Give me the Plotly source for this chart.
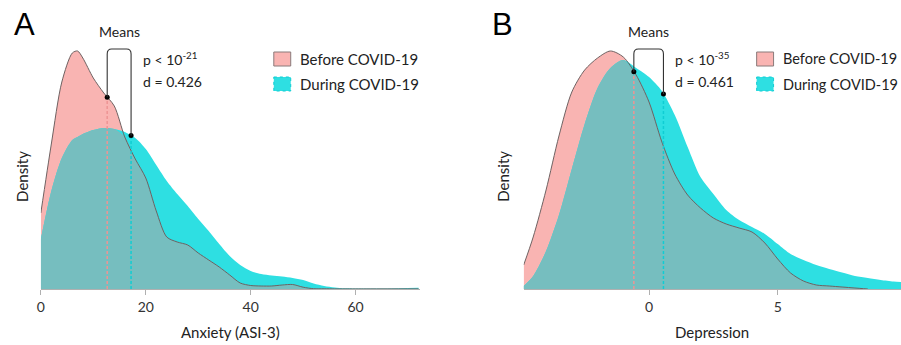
import numpy as np
import plotly.graph_objects as go

# ---------------- data ----------------
# Panel A: Anxiety (ASI-3) -- relative density heights
anx_x = [0, 2, 4, 6, 7, 8, 10, 12, 14, 16, 18, 20, 22, 24, 26, 28, 30, 32, 34, 36,
         38, 40, 42, 44, 46, 48, 50, 52, 54, 56, 58, 62, 66, 72]
anx_before = [76, 145, 207, 236, 238, 231, 211, 196, 183, 152, 130, 111, 78, 52, 47, 44,
              36, 29, 22, 14, 6, 3.5, 3, 3, 4, 4.5, 1.8, 0.3, 0.2, 0.1, 0.1, 0.1, 0.1, 0.1]
anx_during = [50, 98, 131, 149, 152, 155, 159, 161, 160, 157, 151, 140, 124, 108, 95, 83,
              70, 58, 45, 33, 24, 18, 15, 13.5, 12.5, 11, 9, 5.5, 3, 1.5, 0.7, 0.5, 0.6, 1.2]
anx_means = [12.65, 17.2]
anx_p_exp = "-21"
anx_d = "0.426"

# Panel B: Depression -- relative density heights
dep_x = [-4.87, -4.5, -4, -3.5, -3, -2.5, -2, -1.5, -1, -0.5, 0, 0.5, 1, 1.5, 2, 2.5, 3,
         3.5, 4, 4.5, 5, 5.5, 6, 6.5, 7, 7.5, 8, 8.5, 9, 9.5, 9.8]
dep_before = [24, 52, 99, 153, 197, 219, 231, 238, 232, 214, 187, 147, 115, 94, 81, 71, 65,
              61, 57, 46, 30, 16, 8, 4, 3, 2, 1, 0, None, None, None]
dep_during = [3, 13, 38, 74, 120, 165, 201, 221, 229, 221, 212, 198, 174, 142, 112, 95, 79,
              69, 62, 55, 45, 35, 29, 24, 20, 16.5, 13, 11, 9, 7.5, 7]
dep_means = [-0.59, 0.56]
dep_p_exp = "-35"
dep_d = "0.461"

anx_ticks = [0, 20, 40, 60]
dep_ticks = [0, 5]
series_names = ["Before COVID-19", "During COVID-19"]

# ---------------- styling ----------------
W, H = 901, 345
M_T, M_B = 40, 56
PLOT_H = H - M_T - M_B
BASE = H - M_B
FONT = "Lato"
PINK = "#F9B4B2"
PINK_LINE = "#6E6262"
CYAN = "#2EDFE2"
TEAL = "#76BEBF"
PINK_DASH = "#EE9494"
CYAN_DASH = "#10CDD3"
YMAX = PLOT_H

panels = [
    dict(x=anx_x, b=anx_before, d=anx_during, means=anx_means, p=anx_p_exp, dv=anx_d,
         dom=(37, 418), rng=(0, 72.3), ticks=anx_ticks, title="Anxiety (ASI-3)",
         letter="A", letter_xy=(21, 24), dens_x=18, legend_x=271, legend_fs=15,
         xa="x", ya="y"),
    dict(x=dep_x, b=dep_before, d=dep_during, means=dep_means, p=dep_p_exp, dv=dep_d,
         dom=(522, 901), rng=(-4.87, 9.79), ticks=dep_ticks, title="Depression",
         letter="B", letter_xy=(501, 25), dens_x=501, legend_x=756, legend_fs=14.5,
         xa="x2", ya="y2"),
]


def px2paper(px):
    return px / W


def py2paper(py):
    return (BASE - py) / PLOT_H


def label(text, px, py, size, xanchor="center", family=FONT, color="#222", angle=0):
    return dict(text=text, x=px2paper(px), y=py2paper(py), xref="paper", yref="paper",
                xanchor=xanchor, yanchor="middle", showarrow=False, textangle=angle,
                font=dict(family=family, size=size, color=color))


fig = go.Figure()
shapes = []
annotations = []

for i, pn in enumerate(panels):
    x = np.array(pn["x"], dtype=float)
    b = np.array([np.nan if v is None else v for v in pn["b"]], dtype=float)
    d = np.array(pn["d"], dtype=float)
    b0 = np.nan_to_num(b, nan=0.0)
    overlap = np.minimum(b0, d)
    xa, ya = pn["xa"], pn["ya"]
    bl = [None if np.isnan(v) else v for v in b]

    fig.add_trace(go.Scatter(x=x, y=bl, mode="lines", fill="tozeroy", fillcolor=PINK,
                             line=dict(width=0, shape="spline", smoothing=0.8),
                             hoverinfo="skip", showlegend=False, xaxis=xa, yaxis=ya))
    fig.add_trace(go.Scatter(x=x, y=d, mode="lines", fill="tozeroy", fillcolor=CYAN,
                             line=dict(width=0, shape="spline", smoothing=0.8),
                             hoverinfo="skip", showlegend=False, xaxis=xa, yaxis=ya))
    fig.add_trace(go.Scatter(x=x, y=overlap, mode="lines", fill="tozeroy", fillcolor=TEAL,
                             line=dict(width=0, shape="spline", smoothing=0.8),
                             hoverinfo="skip", showlegend=False, xaxis=xa, yaxis=ya))
    fig.add_trace(go.Scatter(x=x, y=bl, mode="lines",
                             line=dict(width=1, color=PINK_LINE, shape="spline", smoothing=0.8),
                             hoverinfo="skip", showlegend=False, xaxis=xa, yaxis=ya))

    # means: dashed lines + dots
    h_b = float(np.interp(pn["means"][0], x, b0))
    h_d = float(np.interp(pn["means"][1], x, d))
    heights = [h_b, h_d]
    for m, h, c in zip(pn["means"], heights, [PINK_DASH, CYAN_DASH]):
        fig.add_trace(go.Scatter(x=[m, m], y=[0, h], mode="lines",
                                 line=dict(color=c, width=1.5, dash="3px,2px"),
                                 hoverinfo="skip", showlegend=False, xaxis=xa, yaxis=ya))
    fig.add_trace(go.Scatter(x=pn["means"], y=heights, mode="markers",
                             marker=dict(color="black", size=5),
                             hoverinfo="skip", showlegend=False, xaxis=xa, yaxis=ya))

    # bracket
    upx = (pn["dom"][1] - pn["dom"][0]) / (pn["rng"][1] - pn["rng"][0])
    rx, ry = 4.5 / upx, 5.0
    top = 240
    m1, m2 = pn["means"]
    path = (f"M{m1},{h_b} L{m1},{top - ry} Q{m1},{top} {m1 + rx},{top} "
            f"L{m2 - rx},{top} Q{m2},{top} {m2},{top - ry} L{m2},{h_d}")
    shapes.append(dict(type="path", path=path, xref=xa, yref=ya,
                       line=dict(color="#333333", width=1.1)))

    mid_px = pn["dom"][0] + (np.mean(pn["means"]) - pn["rng"][0]) * upx
    annotations.append(label("Means", mid_px, 31, 14))
    tx = pn["dom"][0] + (m2 - pn["rng"][0]) * upx + 10
    annotations.append(label(f"p < 10<sup>{pn['p']}</sup>", tx, 59, 14, xanchor="left"))
    annotations.append(label(f"d = {pn['dv']}", tx, 81, 14, xanchor="left"))

    # panel letter
    annotations.append(label(pn["letter"], pn["letter_xy"][0], pn["letter_xy"][1], 31,
                             family="Liberation Sans", color="black"))
    # axis titles
    annotations.append(label("Density", pn["dens_x"], 176, 15, angle=-90))
    annotations.append(label(pn["title"], sum(pn["dom"]) / 2, 332, 15))

    # legend (boxes + labels)
    lx = pn["legend_x"]
    for k, (name, fc, lc, dash) in enumerate(zip(series_names, [PINK, CYAN],
                                                  ["#8a7a7a", CYAN_DASH], ["solid", "dot"])):
        yc = 59 + 25 * k
        shapes.append(dict(type="rect", xref="paper", yref="paper",
                           x0=px2paper(lx), x1=px2paper(lx + 17),
                           y0=py2paper(yc - 7), y1=py2paper(yc + 7),
                           fillcolor=fc, line=dict(color=lc, width=1, dash=dash)))
        annotations.append(label(name, lx + 24, yc, pn["legend_fs"], xanchor="left"))

axis_common = dict(showgrid=False, zeroline=False, showline=True, linecolor="#b0b0b0",
                   linewidth=1, ticks="outside", ticklen=5, tickcolor="#b0b0b0",
                   tickfont=dict(family=FONT, size=14, color="#333"))
yaxis_common = dict(range=[0, YMAX], showgrid=False, zeroline=False, showline=False,
                    showticklabels=False, ticks="", fixedrange=True)

fig.update_layout(
    width=W, height=H,
    margin=dict(l=0, r=0, t=M_T, b=M_B),
    paper_bgcolor="white", plot_bgcolor="white",
    showlegend=False,
    xaxis=dict(domain=[px2paper(37), px2paper(418)], range=list(panels[0]["rng"]),
               tickvals=anx_ticks, anchor="y", fixedrange=True, **axis_common),
    xaxis2=dict(domain=[px2paper(522), 1.0], range=list(panels[1]["rng"]),
                tickvals=dep_ticks, anchor="y2", fixedrange=True, **axis_common),
    yaxis=dict(domain=[0, 1], anchor="x", **yaxis_common),
    yaxis2=dict(domain=[0, 1], anchor="x2", **yaxis_common),
    shapes=shapes,
    annotations=annotations,
)

fig.write_html(
    "out.html",
    config={"displayModeBar": False},
    post_script="document.body.style.margin='0';document.body.style.overflow='hidden';",
)
